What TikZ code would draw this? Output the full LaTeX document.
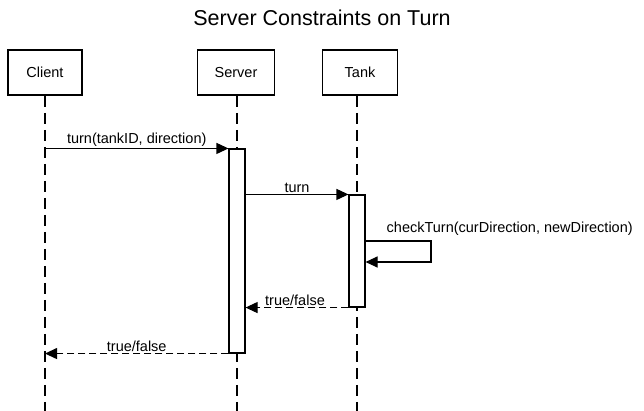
\documentclass[tikz,border=0pt]{standalone}
\usepackage{fontspec}
\setmainfont{Liberation Sans}
\usetikzlibrary{arrows.meta}
\tikzset{
  >={Triangle[length=12pt,width=11pt]},
  actor/.style = {draw, line width=1.8pt, fill=white, minimum width=74pt,
                  minimum height=45pt, inner sep=0, font=\fontsize{14.5}{17}\selectfont},
  lifeline/.style = {draw, line width=1.1pt, dash pattern=on 11pt off 6pt},
  activation/.style = {draw, line width=1.1pt, fill=white, minimum width=16pt, inner sep=0},
  msg/.style = {draw, line width=1.1pt, ->},
  ret/.style = {msg, dash pattern=on 7pt off 4pt},
  lbl/.style = {font=\fontsize{14.5}{17}\selectfont, inner sep=1.5pt},
}
\begin{document}
\begin{tikzpicture}[x=1pt,y=-1pt]
\useasboundingbox (0,0) rectangle (644,411);
\node[font=\fontsize{21.5}{25}\selectfont] (title) at (322,18) {Server Constraints on Turn};
% participants
\node[actor] (client) at (45,72.5) {Client};
\node[actor, minimum width=77pt] (server) at (236,72.5) {Server};
\node[actor, minimum width=75pt] (tank) at (360,72.5) {Tank};
\coordinate (cend) at (45,411);
\coordinate (send) at (237,411);
\coordinate (tend) at (357,411);
\path[lifeline] (client.south) -- (cend);
\path[lifeline] (server.south -| send) -- (send);
\path[lifeline] (tank.south -| tend) -- (tend);
% activations
\node[activation, minimum height=204pt] (srvact) at (237,251) {};
\node[activation, minimum height=112pt] (tankact) at (357,251) {};
% messages
\path[msg] (srvact.north west -| cend) -- node[lbl, above] {turn(tankID, direction)} (srvact.north west);
\path[msg] (srvact.east |- tankact.north west) -- node[lbl, above] {turn} (tankact.north west);
\coordinate (self1) at (431,241);
\coordinate (self2) at (431,262);
\path[msg] (tankact.east |- self1) -- (self1) -- (self2) -- (tankact.east |- self2);
\node[lbl, anchor=south west] (selflbl) at (385,237) {checkTurn(curDirection, newDirection)};
\path[ret] (tankact.south west) -- node[lbl, above, xshift=-2pt] {true/false} (tankact.south west -| srvact.east);
\path[ret] (srvact.south west) -- node[lbl, above] {true/false} (srvact.south west -| cend);
\end{tikzpicture}
\end{document}
